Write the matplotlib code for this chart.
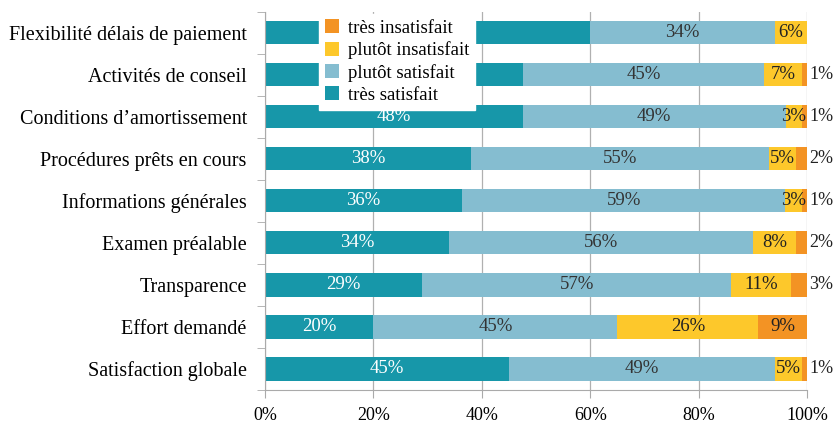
import numpy as np
import matplotlib.pyplot as plt

plt.rcParams['font.family'] = ['Liberation Serif', 'DejaVu Serif']

categories = ['Flexibilité délais de paiement', 'Activités de conseil',
              'Conditions d\u2019amortissement', 'Procédures prêts en cours',
              'Informations générales', 'Examen préalable', 'Transparence',
              'Effort demandé', 'Satisfaction globale']
tres_satisfait = [60, 48, 48, 38, 36, 34, 29, 20, 45]
plutot_satisfait = [34, 45, 49, 55, 59, 56, 57, 45, 49]
plutot_insatisfait = [6, 7, 3, 5, 3, 8, 11, 26, 5]
tres_insatisfait = [0, 1, 1, 2, 1, 2, 3, 9, 1]

series = [('très satisfait', tres_satisfait, '#1797a9', 'white'),
          ('plutôt satisfait', plutot_satisfait, '#85bdd0', '#333333'),
          ('plutôt insatisfait', plutot_insatisfait, '#fdc82b', '#222222'),
          ('très insatisfait', tres_insatisfait, '#f39324', '#222222')]

# labels hidden behind the legend in the original (series, row)
hidden = {(0, 0), (0, 1)}

vals = np.array([s[1] for s in series], dtype=float)
shares = vals / vals.sum(axis=0) * 100

fig = plt.figure(figsize=(8.33, 4.23), dpi=100)
ax = fig.add_axes([0.318, 0.078, 0.651, 0.894])

y = np.arange(len(categories))[::-1]
left = np.zeros(len(categories))
handles = []
for k, (name, raw, col, tcol) in enumerate(series):
    b = ax.barh(y, shares[k], left=left, height=0.55, color=col, label=name, zorder=2)
    handles.append(b)
    for i in range(len(categories)):
        v = raw[i]
        if v == 0 or (k, i) in hidden:
            continue
        xc = left[i] + shares[k][i] / 2
        if k == 3 and v < 5:
            ax.text(100.4, y[i], f'{v}%', ha='left', va='center', fontsize=13,
                    color='#222222', clip_on=False)
        else:
            ax.text(xc, y[i], f'{v}%', ha='center', va='center', fontsize=13.5,
                    color=tcol, zorder=3)
    left += shares[k]

ax.set_xlim(0, 100)
ax.set_ylim(-0.5, len(categories) - 0.5)
ax.set_xticks(np.arange(0, 101, 20))
ax.set_xticklabels([f'{t}%' for t in range(0, 101, 20)], fontsize=13)
ax.set_yticks(y)
ax.set_yticklabels(categories, fontsize=14.5)
ax.set_yticks(np.arange(-0.5, len(categories), 1), minor=True)
ax.tick_params(axis='y', which='major', length=0, pad=13)
ax.tick_params(axis='y', which='minor', length=6, color='#aaaaaa')
ax.tick_params(axis='x', length=6, color='#aaaaaa', pad=6)
ax.grid(axis='x', color='#b0b0b0', linewidth=0.9, zorder=0)
for s in ['top', 'right']:
    ax.spines[s].set_visible(False)
for s in ['left', 'bottom']:
    ax.spines[s].set_color('#aaaaaa')

leg = ax.legend(handles[::-1], [s[0] for s in series][::-1], loc='upper left',
                bbox_to_anchor=(0.083, 1.02), fontsize=13.5, frameon=True,
                fancybox=False, edgecolor='white', framealpha=1,
                handlelength=0.75, handleheight=0.75, handletextpad=0.5,
                labelspacing=0.25, borderpad=0.3)
leg.set_zorder(5)

fig.savefig('out.png', dpi=100)
